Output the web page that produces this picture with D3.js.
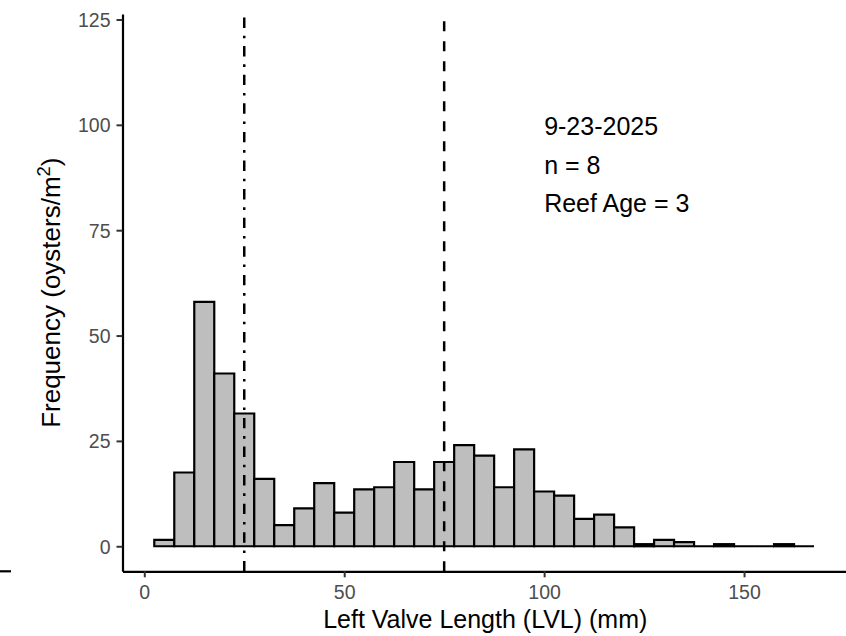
<!DOCTYPE html>
<html><head><meta charset="utf-8">
<script src="https://cdn.jsdelivr.net/npm/d3@7"></script>
<style>body{margin:0;background:#fff} svg{display:block}</style>
</head><body>
<svg id="chart" width="846" height="636"></svg>
<script>
// ---- data ----
const binCenters = [5,10,15,20,25,30,35,40,45,50,55,60,65,70,75,80,85,90,95,100,105,110,115,120,125,130,135,140,145,150,155,160,165];
const frequencies = [1.5,17.5,58,41,31.5,16,5,9,15,8,13.5,14,20,13.5,20,24,21.5,14,23,13,12,6.5,7.5,4.5,0.5,1.5,1,0,0.5,0,0,0.5,0];
const binWidth = 5;
const xTicks = [0,50,100,150];
const yTicks = [0,25,50,75,100,125];
const refLineValues = [25,75];
const refLineTypes = ["dotdash","dashed"];
const annotationLines = ["9-23-2025","n = 8","Reef Age = 3"];
const annotationX = 100;
const annotationY = 90.5;
const xTitle = "Left Valve Length (LVL) (mm)";
const yTitleMain = "Frequency (oysters/m";
const yTitleSup = "2";
const yTitleEnd = ")";

// ---- layout ----
const FONT = "'Liberation Sans', Arial, Helvetica, sans-serif";
const svg = d3.select("#chart");
const x = d3.scaleLinear().domain([-5.45, 176]).range([122.5, 848]);
const y = d3.scaleLinear().domain([-5.94, 126.3]).range([571.3, 14]);
const dashes = {dashed: "10 10", dotdash: "10.4 7.8 2.6 7.8"};

// bars (paths so that zero-height bins still show their outline)
svg.append("g").selectAll("path").data(binCenters).join("path")
  .attr("d", (d, i) => {
    const x0 = x(d - binWidth/2), x1 = x(d + binWidth/2);
    const y0 = y(0), y1 = y(frequencies[i]);
    return `M${x0},${y0}H${x1}V${y1}H${x0}Z`;
  })
  .attr("fill", "#BEBEBE")
  .attr("stroke", "#000")
  .attr("stroke-width", 2.2);

// reference lines (drawn bottom to top)
svg.append("g").selectAll("line").data(refLineValues).join("line")
  .attr("x1", (d) => x(d)).attr("x2", (d) => x(d))
  .attr("y1", y.range()[0]).attr("y2", y.range()[1])
  .attr("stroke", "#000").attr("stroke-width", 2.5)
  .attr("stroke-dasharray", (d,i) => dashes[refLineTypes[i]]);

// axes
const yAxis = svg.append("g").attr("transform", `translate(${x.range()[0]},0)`)
  .call(d3.axisLeft(y).tickValues(yTicks).tickSize(6).tickSizeOuter(0).tickPadding(6));
const xAxis = svg.append("g").attr("transform", `translate(0,${y.range()[0]})`)
  .call(d3.axisBottom(x).tickValues(xTicks).tickSize(6).tickSizeOuter(0).tickPadding(7.5));
[yAxis, xAxis].forEach(g => {
  g.select(".domain").attr("stroke", "#000").attr("stroke-width", 2.2);
  g.selectAll(".tick line").attr("stroke", "#333").attr("stroke-width", 2);
  g.selectAll(".tick text").attr("font-family", FONT).attr("font-size", 19.5).attr("fill", "#4D4D4D");
});
yAxis.selectAll(".tick text").attr("dy", "0.355em");

// stub of neighbouring panel's axis at the left edge
svg.append("line").attr("x1", 0).attr("x2", 11)
  .attr("y1", y.range()[0]).attr("y2", y.range()[0])
  .attr("stroke", "#000").attr("stroke-width", 2.2);

// annotation
const ann = svg.append("text").attr("font-family", FONT).attr("font-size", 25).attr("fill", "#000");
annotationLines.forEach((t, i) => {
  ann.append("tspan").attr("x", x(annotationX))
    .attr("y", y(annotationY) + (i - 1) * 38.5 + 0.358 * 25)
    .text(t);
});

// axis titles
svg.append("text")
  .attr("x", (x.range()[0] + x.range()[1]) / 2).attr("y", 628)
  .attr("text-anchor", "middle").attr("font-family", FONT).attr("font-size", 25).attr("fill", "#000")
  .text(xTitle);

const yt = svg.append("text")
  .attr("transform", `translate(60,${(y.range()[0] + y.range()[1]) / 2}) rotate(-90)`)
  .attr("text-anchor", "middle").attr("font-family", FONT).attr("font-size", 26).attr("fill", "#000");
yt.append("tspan").text(yTitleMain);
yt.append("tspan").attr("font-size", 18.5).attr("dy", -10.5).text(yTitleSup);
yt.append("tspan").attr("dy", 10.5).text(yTitleEnd);
</script>
</body></html>
